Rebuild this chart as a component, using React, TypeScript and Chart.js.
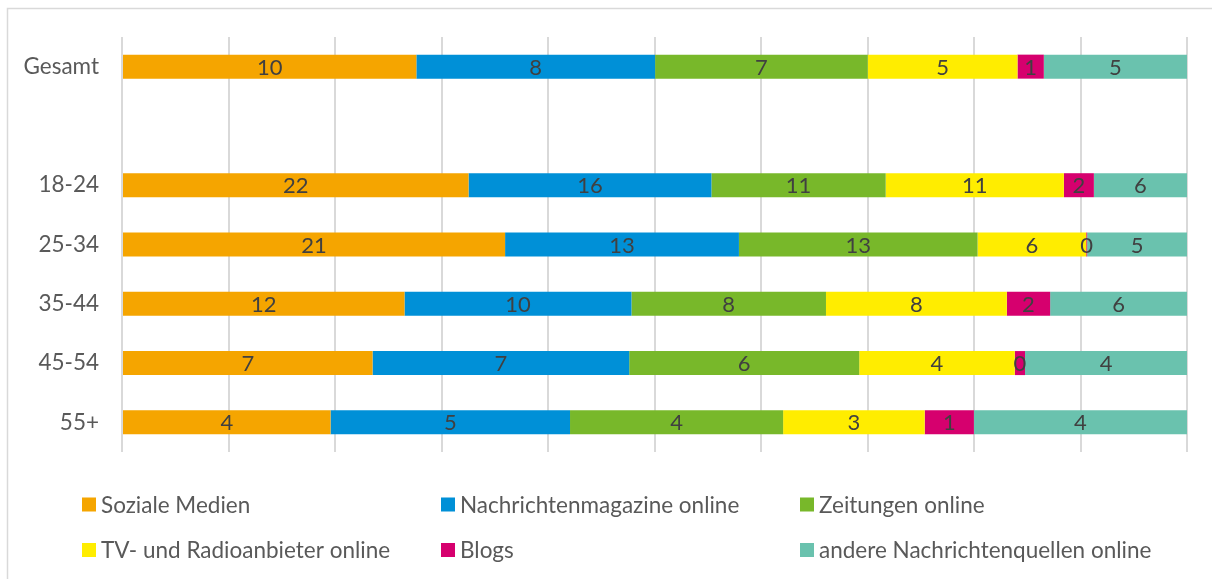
import React, { useEffect, useRef } from "react";
import { Chart, registerables } from "chart.js";

Chart.register(...registerables);

const FONT = "Lato, 'Open Sans', sans-serif";

const categories = ["Gesamt", "", "18-24", "25-34", "35-44", "45-54", "55+"];

const seriesNames = [
  "Soziale Medien",
  "Nachrichtenmagazine online",
  "Zeitungen online",
  "TV- und Radioanbieter online",
  "Blogs",
  "andere Nachrichtenquellen online",
];

const seriesColors = ["#F5A500", "#0090D7", "#78B82A", "#FFED00", "#D6006E", "#6AC2AE"];

const sozialeMedien = [9.95, null, 22.29, 20.87, 12.2, 6.59, 4.11];
const nachrichtenmagazine = [8.07, null, 15.62, 12.74, 9.8, 6.75, 4.72];
const zeitungen = [7.19, null, 11.21, 13.0, 8.4, 6.05, 4.2];
const tvRadio = [5.06, null, 11.46, 5.92, 7.81, 4.09, 2.79];
const blogs = [0.89, null, 1.93, 0.05, 1.87, 0.27, 0.97];
const andere = [4.84, null, 5.99, 5.44, 5.91, 4.26, 4.2];

const seriesValues: (number | null)[][] = [sozialeMedien, nachrichtenmagazine, zeitungen, tvRadio, blogs, andere];

const xTickValues = [0, 10, 20, 30, 40, 50, 60, 70, 80, 90, 100];

function rowTotals(): number[] {
  return categories.map((_, i) =>
    seriesValues.reduce((s, arr) => s + (arr[i] == null ? 0 : (arr[i] as number)), 0)
  );
}

const borderPlugin = {
  id: "outerBorder",
  beforeDraw(chart: any) {
    const ctx = chart.ctx;
    ctx.save();
    ctx.fillStyle = "#ffffff";
    ctx.fillRect(0, 0, chart.width, chart.height);
    ctx.strokeStyle = "#d9d9d9";
    ctx.lineWidth = 1.5;
    ctx.beginPath();
    ctx.moveTo(7.5, chart.height);
    ctx.lineTo(7.5, 8.5);
    ctx.lineTo(chart.width, 8.5);
    ctx.stroke();
    ctx.restore();
  },
};

const segLabelPlugin = {
  id: "segLabels",
  afterDatasetsDraw(chart: any) {
    const ctx = chart.ctx;
    ctx.save();
    ctx.font = `22px ${FONT}`;
    ctx.fillStyle = "#404040";
    ctx.textAlign = "center";
    ctx.textBaseline = "middle";
    chart.data.datasets.forEach((ds: any, di: number) => {
      const meta = chart.getDatasetMeta(di);
      const raw = seriesValues[di];
      meta.data.forEach((el: any, i: number) => {
        const v = raw[i];
        if (v == null) return;
        const c = el.getCenterPoint();
        ctx.fillText(String(Math.round(v)), c.x, c.y + 1);
      });
    });
    ctx.restore();
  },
};

const legendPlugin = {
  id: "gridLegend",
  afterDraw(chart: any) {
    const ctx = chart.ctx;
    const colX = [82, 441, 800];
    const rowY = [504.5, 550];
    const box = 14;
    ctx.save();
    ctx.font = `22.5px ${FONT}`;
    ctx.textAlign = "left";
    ctx.textBaseline = "middle";
    chart.data.datasets.forEach((ds: any, i: number) => {
      const x = colX[i % 3];
      const y = rowY[Math.floor(i / 3)];
      ctx.fillStyle = ds.backgroundColor;
      ctx.fillRect(x, y - box / 2, box, box);
      ctx.fillStyle = "#595959";
      ctx.fillText(ds.label, x + box + 5, y + 1);
    });
    ctx.restore();
  },
};

export default function App() {
  const ref = useRef<HTMLCanvasElement | null>(null);

  useEffect(() => {
    if (!ref.current) return;
    const totals = rowTotals();
    const datasets = seriesNames.map((name, si) => ({
      label: name,
      backgroundColor: seriesColors[si],
      borderWidth: 0,
      data: seriesValues[si].map((v, i) => (v == null || totals[i] === 0 ? null : (v / totals[i]) * 100)),
      categoryPercentage: 1,
      barPercentage: 0.405,
    }));

    const chart = new Chart(ref.current, {
      type: "bar",
      data: { labels: categories, datasets },
      options: {
        indexAxis: "y",
        animation: false,
        responsive: false,
        maintainAspectRatio: false,
        layout: { padding: { left: 0, right: 25, top: 37, bottom: 127 } },
        plugins: {
          legend: { display: false },
          tooltip: { enabled: false },
        },
        scales: {
          x: {
            stacked: true,
            min: xTickValues[0],
            max: xTickValues[xTickValues.length - 1],
            afterBuildTicks: (scale: any) => {
              scale.ticks = xTickValues.map((v) => ({ value: v }));
            },
            ticks: { display: false },
            grid: { color: "#d9d9d9", lineWidth: 2, drawTicks: false },
            border: { display: false },
            afterFit: (scale: any) => {
              scale.height = 0;
            },
          },
          y: {
            stacked: true,
            grid: { display: false },
            border: { display: false },
            ticks: {
              color: "#595959",
              font: { family: FONT, size: 22.5 },
              padding: 15,
              autoSkip: false,
            },
            afterFit: (scale: any) => {
              scale.width = 122;
            },
          },
        },
      },
      plugins: [borderPlugin, segLabelPlugin, legendPlugin],
    });
    return () => chart.destroy();
  }, []);

  return (
    <div style={{ position: "fixed", left: 0, top: 0, width: 1212, height: 579 }}>
      <canvas ref={ref} width={1212} height={579} style={{ display: "block", width: 1212, height: 579 }} />
    </div>
  );
}
